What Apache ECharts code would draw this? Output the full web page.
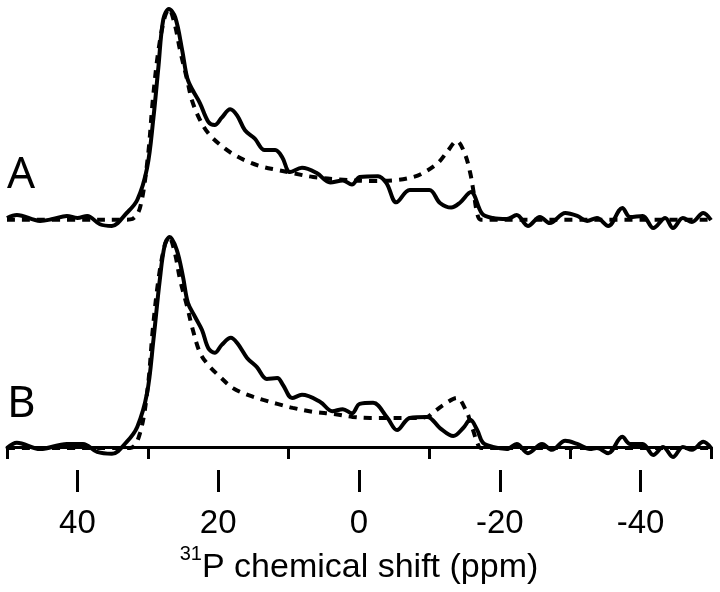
<!DOCTYPE html>
<html>
<head>
<meta charset="utf-8">
<script src="https://cdn.jsdelivr.net/npm/echarts@6/dist/echarts.min.js"></script>
<style>
html,body{margin:0;padding:0;background:#fff;}
#chart{width:720px;height:592px;}
</style>
</head>
<body>
<div id="chart"></div>
<script>
// ---- Data (ppm, intensity; baseline 0, main peak 100) ----
var aSolidPpm = [50,48.6,45.3,43.5,41.5,40,38.6,36.8,35.1,33,31.5,30.1,29.2,28.5,27.8,27,26.1,25.1,24.4,23.6,22.6,21.4,20.5,19.5,18.3,17.3,16.2,14.8,13.4,11.9,10.9,9.8,8.1,6,4.1,2.3,1,-0.1,-2.7,-3.9,-5.3,-7.2,-10,-11.5,-13.1,-14.3,-15.9,-17.5,-19,-21,-22.4,-24,-25.7,-27.1,-29.3,-31,-32.4,-33.8,-35.4,-37.4,-38.5,-40.3,-41.8,-43.5,-44.6,-46,-47.3,-48.9,-50];
var aSolidInt = [0,1.4,-1.4,-0.5,1,0,1,-3,-3.8,2.4,8.6,24,48,72,95,100,96,80,67,61,55,46,44.5,48,52,49,42,38,32.5,32.5,29,22,24,21.5,17,18,16,19.6,20,16.7,7.5,13.4,13.4,7.2,5,7.2,12.4,2,0,-0.5,1.4,-3.8,0.5,-2.4,2.4,1,-1.4,0,-3.8,4.8,0.5,1,-4.8,0,-4.8,0,-1.9,2.4,-1];

var aDashPpm = [50,40,33,32.2,31.1,30,29.3,28.5,27.6,27,26.2,25.4,24.4,23.7,22.6,21.4,19.7,17.9,15.8,13.6,11.6,9.4,6.5,3,-1.8,-5.4,-7.7,-9.1,-11.2,-12.5,-13.9,-15,-15.8,-16.3,-16.8,-17.3,-30,-50];
var aDashInt = [-0.8,-0.8,-0.8,-0.5,5,29,56,80,96,100,93,80,66,56,47,40.5,35,30.6,27,24.4,23,21.5,19.6,18.5,17.7,18.2,19.6,21.5,26.3,31.6,36.8,31,21.5,12,2,-0.8,-0.8,-0.8];

var bSolidPpm = [50,48.6,45.3,41.5,39.2,37.2,35.1,33,31.5,30.1,29.2,28.3,27.6,26.9,25.9,25,24.3,23.3,22.3,21.4,20.5,19.5,18.2,17.3,15.9,14.5,13.1,11.6,10.8,9.5,8.1,5.5,3.8,2.3,1,-0.1,-2,-4,-5.4,-7.2,-9.7,-11.5,-13.4,-14.8,-15.8,-16.8,-17.6,-19,-21,-22.4,-24,-26,-27.4,-29.3,-31,-32.8,-33.8,-35.4,-37.4,-38.5,-40.3,-41.8,-43.2,-44.6,-46,-47.3,-48.9,-50];
var bSolidInt = [-0.5,2,-1,1.4,1.4,-2.4,-3.3,2.4,9.5,25.7,51,79.5,96,100,94,81,68.6,62,55.7,47,44.8,48.6,52,49.5,42.4,38,32.4,32.8,29.5,23.3,24.8,21.4,17,18,16,20.5,21,14,8,13.8,14.3,9,5.2,9,12.9,8,2,0,-1,1.4,-3,1.4,-1.4,2.9,1.4,-1,-0.5,-3,4.8,1.4,1.4,-3.8,0,-4.8,0,-1.4,2.4,-0.5];

var bDashPpm = [50,40,32.5,31.1,30,29.3,28.5,27.6,27,26.2,25.4,24.4,23.7,22.6,21.4,19.7,17.9,15.8,13.6,11.6,9.4,6.5,3.7,0.9,-1.6,-7.2,-9.7,-10.4,-12,-13.9,-15.3,-15.8,-16.2,-16.8,-17.3,-30,-50];
var bDashInt = [-0.5,-0.5,-0.5,6.7,28.6,55.7,79.5,96,100,93,79.5,66.7,57,45,39,33.3,28,24.8,22.4,20.5,18.6,16.7,15.7,14.3,13.8,13.8,14.3,16,20,23.3,16.7,12,8,2,-0.5,-0.5,-0.5];

var majorTicks = [40, 20, 0, -20, -40];
var minorTicks = [50, 30, 10, -10, -30, -50];
var panelLabels = ['A', 'B'];

function pairs(xs, ys) {
  return xs.map(function (x, i) { return [x, ys[i]]; });
}

var chart = echarts.init(document.getElementById('chart'), null, {renderer: 'canvas'});
var FONT = 'Liberation Sans';

var lineSolid = {color: '#000', width: 4, type: 'solid'};
var lineDash = {color: '#000', width: 4, type: [8, 7]};

function series(name, data, idx, style) {
  return {
    name: name, type: 'line', data: data,
    xAxisIndex: idx, yAxisIndex: idx,
    showSymbol: false, symbol: 'none', smooth: 0.35,
    clip: false, lineStyle: style, silent: true
  };
}

var option = {
  animation: false,
  backgroundColor: '#fff',
  grid: [
    {left: 7, right: 9, top: 9, height: 229.9},
    {left: 7, right: 9, top: 237, height: 233}
  ],
  xAxis: [
    {gridIndex: 0, type: 'value', min: -50, max: 50, inverse: true, show: false},
    {gridIndex: 1, type: 'value', position: 'bottom', min: -50, max: 50, inverse: true,
      axisLine: {show: true, lineStyle: {color: '#000', width: 3}},
      axisTick: {show: true, length: 12, lineStyle: {color: '#000', width: 3}, customValues: minorTicks},
      axisLabel: {show: false},
      splitLine: {show: false}
    },
    {gridIndex: 1, type: 'value', position: 'bottom', offset: 0, min: -50, max: 50, inverse: true,
      axisLine: {show: false},
      axisTick: {show: true, length: 22, lineStyle: {color: '#000', width: 3}, customValues: majorTicks},
      axisLabel: {show: true, customValues: majorTicks, fontSize: 33, fontFamily: FONT, color: '#000', margin: 37},
      splitLine: {show: false},
      name: '{sup|31}{n|P chemical shift (ppm)}',
      nameLocation: 'middle',
      nameGap: 74,
      nameTextStyle: {
        color: '#000', fontFamily: FONT,
        rich: {
          sup: {fontSize: 20, fontFamily: FONT, color: '#000', verticalAlign: 'top', padding: [0, 0, 27, 0]},
          n: {fontSize: 34, fontFamily: FONT, color: '#000'}
        }
      }
    }
  ],
  yAxis: [
    {gridIndex: 0, type: 'value', min: -10, max: 100, show: false},
    {gridIndex: 1, type: 'value', min: -11, max: 100, show: false}
  ],
  graphic: [
    {type: 'text', left: 7, top: 153, style: {text: panelLabels[0], font: '44px "Noto Sans"', fill: '#000'}},
    {type: 'text', left: 7, top: 382, style: {text: panelLabels[1], font: '44px "Noto Sans"', fill: '#000'}}
  ],
  series: [
    series('A fit', pairs(aDashPpm, aDashInt), 0, lineDash),
    series('A', pairs(aSolidPpm, aSolidInt), 0, lineSolid),
    series('B fit', pairs(bDashPpm, bDashInt), 1, lineDash),
    series('B', pairs(bSolidPpm, bSolidInt), 1, lineSolid)
  ]
};
chart.setOption(option);
</script>
</body>
</html>
